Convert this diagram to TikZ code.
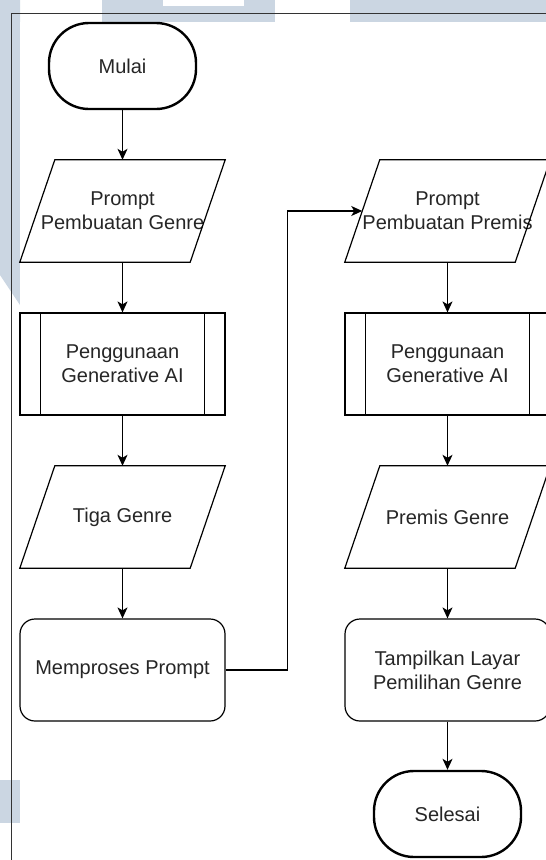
\documentclass[tikz,border=0pt]{standalone}
\usepackage{fontspec}
\setmainfont{Liberation Sans}
\usetikzlibrary{arrows.meta}

\definecolor{wmark}{HTML}{CBD6E2}

\begin{document}
\begin{tikzpicture}[x=1pt, y=-1pt,
  every node/.style={font=\fontsize{20pt}{24pt}\selectfont, text=black!85, align=center},
  term/.style={draw, line width=2.4pt, rounded corners=40pt, minimum width=147pt, minimum height=86pt},
  io/.style={inner sep=0pt, minimum width=170pt, minimum height=102pt},
  subproc/.style={draw, line width=1.2pt, minimum width=205pt, minimum height=102pt},
  proc/.style={draw, line width=1.2pt, rounded corners=15pt, minimum width=205pt, minimum height=102pt},
  arr/.style={line width=1.2pt, -{Stealth[length=11pt, width=10pt, inset=3pt]}}]
  \useasboundingbox (0,0) rectangle (546,860);
  % watermark behind the chart
  \fill[wmark] (0,0) -- (20,0) -- (20,305) -- (0,275) -- cycle;
  \fill[wmark] (102,0) rectangle (275,22);
  \fill[white] (163,0) rectangle (244,6);
  \fill[wmark] (350,0) rectangle (546,22);
  \fill[wmark] (0,780) rectangle (20,823);
  \fill[white] (20,22) rectangle (546,860);
  \draw[black!80, line width=0.9pt] (11.5,860) -- (11.5,13.5) -- (546,13.5);

  % left column
  \node[term] (mulai) at (122.5,66) {Mulai};
  \node[io] (p1) at (122.5,211) {Prompt\\Pembuatan Genre};
  \node[subproc] (gen1) at (122.5,364) {Penggunaan\\Generative AI};
  \node[io] (tiga) at (122.5,517) {Tiga Genre};
  \node[proc] (memp) at (122.5,670) {Memproses Prompt};
  % right column
  \node[io] (p2) at (447.5,211) {Prompt\\Pembuatan Premis};
  \node[subproc] (gen2) at (447.5,364) {Penggunaan\\Generative AI};
  \node[io] (premis) at (447.5,517) {Premis Genre};
  \node[proc] (tamp) at (447.5,670) {Tampilkan Layar\\Pemilihan Genre};
  \node[term] (selesai) at (447.5,814) {Selesai};

  \foreach \n in {p1,tiga,p2,premis}
    \draw[line width=1.2pt] ([xshift=17.5pt]\n.north west) -- ([xshift=17.5pt]\n.north east)
      -- ([xshift=-17.5pt]\n.south east) -- ([xshift=-17.5pt]\n.south west) -- cycle;
  \foreach \n in {gen1,gen2}
    \draw[line width=1.2pt] ([xshift=21pt]\n.north west) -- ([xshift=21pt]\n.south west)
      ([xshift=-21pt]\n.north east) -- ([xshift=-21pt]\n.south east);

  \foreach \a/\b in {mulai/p1, p1/gen1, gen1/tiga, tiga/memp, p2/gen2, gen2/premis, premis/tamp, tamp/selesai}
    \draw[arr] (\a) -- (\b);
  \draw[arr] (memp.east) -- ++(62,0) |- (p2.west);
\end{tikzpicture}
\end{document}
